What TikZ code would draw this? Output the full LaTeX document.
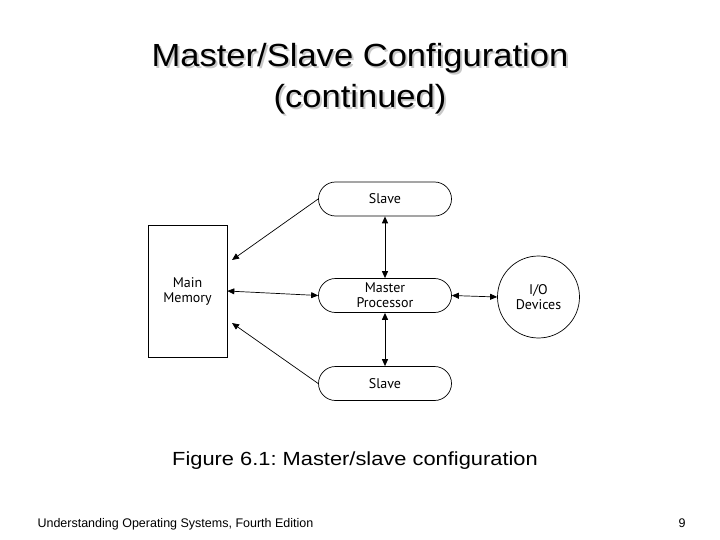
\documentclass[tikz,border=0pt]{standalone}
\usepackage{graphicx}
\usepackage{fontspec}
\setmainfont{Liberation Sans}
\newfontfamily\figfont{PT Sans}
\usepackage{tikz}
\usetikzlibrary{arrows.meta, positioning, shapes.misc, calc}
\definecolor{shadowgray}{RGB}{200,200,200}
\frenchspacing

\begin{document}
\begin{tikzpicture}[x=1pt, y=-1pt,
    box/.style={draw, line width=0.7pt, font=\figfont\fontsize{14}{15}\selectfont, align=center},
    pill/.style={box, rounded rectangle, minimum width=133pt, minimum height=34pt, inner sep=0pt},
    link/.style={line width=0.7pt, {Triangle[length=7pt,width=6pt]}-{Triangle[length=7pt,width=6pt]}},
    oneway/.style={line width=0.7pt, -{Triangle[length=7pt,width=6pt]}},
    heading/.style={anchor=base, font=\fontsize{32}{38}\selectfont}]
  \useasboundingbox (0,0) rectangle (720,540);
  % Title with soft shadow
  \foreach \dx/\col in {2/shadowgray, 0/black} {
    \node[heading, \col] at (360+\dx,67+\dx) {\scalebox{1.08}[1]{Master/Slave Configuration}};
    \node[heading, \col] at (360+\dx,108+\dx) {\scalebox{1.08}[1]{(continued)}};
  }
  % Main memory block
  \node[box, minimum width=79pt, minimum height=132pt] (mem) at (187.5,291) {Main\\Memory};
  % Processors
  \node[pill] (slaveT) at (385,199) {Slave};
  \node[pill] (master) at (385,295.5) {Master\\Processor};
  \node[pill] (slaveB) at (385,383.5) {Slave};
  % I/O devices
  \node[box, circle, minimum size=82pt, inner sep=0pt] (io) at (538.5,297) {I/O\\Devices};
  % Free ends on the memory side
  \coordinate (memT) at (232,260);
  \coordinate (memB) at (232,323);
  % Connectors
  \draw[oneway] (slaveT.west) -- (memT);
  \draw[oneway] (slaveB.west) -- (memB);
  \draw[link] (mem.east) -- (master.west);
  \draw[link, line width=1pt] (slaveT.south) -- (master.north);
  \draw[link, line width=1pt] (master.south) -- (slaveB.north);
  \draw[link] (master.east) -- (io.west);
  % Caption and footer
  \node[anchor=base, font=\fontsize{19}{22}\selectfont] (caption) at (355,465)
    {\scalebox{1.15}[1]{Figure 6.1: Master/slave configuration}};
  \node[anchor=base west, font=\fontsize{12.5}{14}\selectfont] (book) at (34,527)
    {Understanding Operating Systems, Fourth Edition};
  \node[anchor=base, font=\fontsize{12.5}{14}\selectfont] (page) at (682,527) {9};
\end{tikzpicture}
\end{document}
